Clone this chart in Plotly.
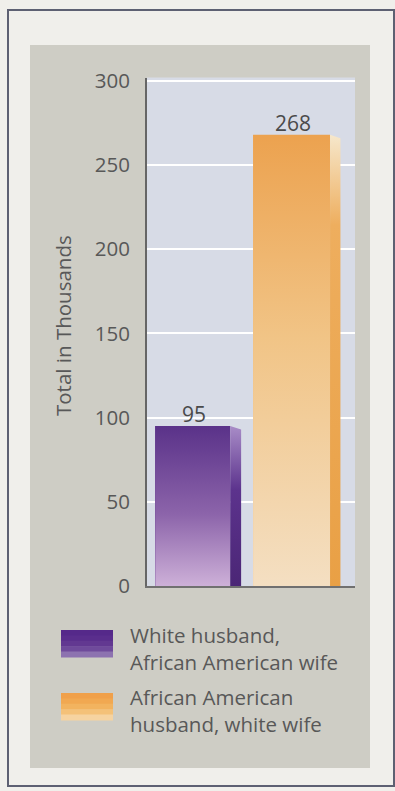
import plotly.graph_objects as go

# ---- data ----
categories = ["White husband, African American wife", "African American husband, white wife"]
values = [95, 268]
y_ticks = [0, 50, 100, 150, 200, 250, 300]
y_title = "Total in Thousands"
legend_lines = [["White husband,", "African American wife"],
                ["African American", "husband, white wife"]]

# ---- geometry / style ----
W, H = 395, 791
def fx(p): return p / W
def fy(p): return 1 - p / H

pos = [0, 1]
front_off = [-0.42, -0.48]
front_w = [0.72, 0.74]
side_w = [0.105, 0.10]
base_col = ["#6f4896", "#efb56c"]
front_grad = [
    [[0, "#cdb0d8"], [0.45, "#8c64aa"], [1, "#5a3289"]],
    [[0, "#f4dfc2"], [0.55, "#f1c486"], [1, "#eca24f"]],
]
side_grad = [
    [[0, "#4b2676"], [0.6, "#5c338d"], [1, "#a88cc7"]],
    [[0, "#e9a045"], [0.8, "#eeae5e"], [1, "#f6e7cb"]],
]
txt = "#585858"
font = "Open Sans"

fig = go.Figure()

fig.add_trace(go.Bar(x=pos, y=values, offset=front_off, width=front_w,
                     marker=dict(color=base_col, line=dict(width=0)),
                     hoverinfo="skip", showlegend=False))

for i, (p, v) in enumerate(zip(pos, values)):
    x0 = p + front_off[i]
    x1 = x0 + front_w[i]
    x2 = x1 + side_w[i]
    fig.add_trace(go.Scatter(x=[x0, x1, x1, x0, x0], y=[0, 0, v, v, 0],
                             mode="lines", line=dict(width=0), fill="toself",
                             fillgradient=dict(type="vertical", colorscale=front_grad[i]),
                             hoverinfo="skip", showlegend=False))
    fig.add_trace(go.Scatter(x=[x1, x2, x2, x1, x1], y=[0, 0, v - 2, v, 0],
                             mode="lines", line=dict(width=0), fill="toself",
                             fillgradient=dict(type="vertical", colorscale=side_grad[i]),
                             hoverinfo="skip", showlegend=False))
    fig.add_annotation(x=x0 + front_w[i] / 2 + 0.01, y=v, xref="x", yref="y",
                       text=str(v), showarrow=False, yanchor="bottom", yshift=-4,
                       font=dict(family=font, size=21, color="#4a4a4a"))

shapes = [
    dict(type="rect", xref="paper", yref="paper", x0=fx(8), x1=fx(394), y0=fy(786), y1=fy(10),
         line=dict(color="#5d6072", width=2), fillcolor="#f0efeb", layer="below"),
    dict(type="rect", xref="paper", yref="paper", x0=fx(30), x1=fx(370), y0=fy(768), y1=fy(45),
         line=dict(width=0), fillcolor="#cecdc5", layer="below"),
    dict(type="rect", xref="paper", yref="paper", x0=fx(147), x1=fx(355), y0=fy(586), y1=fy(77.6),
         line=dict(width=0), fillcolor="#d7dbe6", layer="below"),
]

sw_cols = [["#55298a", "#5a2e8d", "#623891", "#6f4a9b", "#8d72b0"],
           ["#f0a04a", "#f1a851", "#f2b35f", "#f4c178", "#f6d3a0"]]
sw_top = [630, 693]
sw_h = 27
for i in range(2):
    n = len(sw_cols[i])
    for k, c in enumerate(sw_cols[i]):
        t = sw_top[i] + k * sw_h / n
        shapes.append(dict(type="rect", xref="paper", yref="paper", x0=fx(61), x1=fx(113),
                           y0=fy(t + sw_h / n + 0.5), y1=fy(t), line=dict(width=0), fillcolor=c))

leg_center_y = [648, 710]
for i, lines in enumerate(legend_lines):
    fig.add_annotation(x=fx(128), y=fy(leg_center_y[i]), xref="paper", yref="paper",
                       text="<br>".join(lines), showarrow=False, xanchor="left",
                       yanchor="middle", align="left",
                       font=dict(family=font, size=20.5, color=txt))

fig.add_annotation(x=fx(63), y=fy(325), xref="paper", yref="paper", text=y_title,
                   textangle=-90, showarrow=False, xanchor="center", yanchor="middle",
                   font=dict(family=font, size=20.5, color=txt))

fig.update_layout(
    width=W, height=H, margin=dict(l=0, r=0, t=0, b=0, pad=0, autoexpand=False),
    paper_bgcolor="#f0efeb", plot_bgcolor="#d7dbe6",
    shapes=shapes, bargap=0,
    xaxis=dict(domain=[fx(147), fx(355)], range=[-0.5, 1.5], showgrid=False,
               zeroline=False, showticklabels=False, ticks="", automargin=False,
               showline=True, linecolor="#707070", linewidth=2, fixedrange=True),
    yaxis=dict(domain=[fy(586), fy(77.6)], range=[0, 302], tickvals=y_ticks,
               showgrid=True, gridcolor="#ffffff", gridwidth=2, zeroline=False,
               showline=True, linecolor="#666666", linewidth=2, ticks="",
               ticklabelstandoff=11, automargin=False,
               tickfont=dict(family=font, size=20.5, color=txt), fixedrange=True),
    showlegend=False,
)

fig.write_html("out.html", config={"displayModeBar": False},
               post_script="document.body.style.margin='0';document.body.style.overflow='hidden';")
